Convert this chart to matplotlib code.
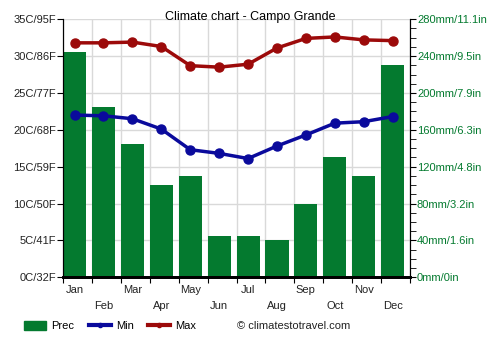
import numpy as np
import matplotlib.pyplot as plt
from matplotlib.patches import Patch
from matplotlib.lines import Line2D
from matplotlib.ticker import MultipleLocator

plt.rcParams['font.family'] = ['Liberation Sans', 'DejaVu Sans']

months = ['Jan', 'Feb', 'Mar', 'Apr', 'May', 'Jun', 'Jul', 'Aug', 'Sep', 'Oct', 'Nov', 'Dec']
prec = [244, 185, 145, 100, 110, 45, 45, 40, 80, 130, 110, 230]
tmin = [22.0, 21.9, 21.5, 20.1, 17.3, 16.8, 16.1, 17.8, 19.3, 20.9, 21.1, 21.8]
tmax = [31.8, 31.8, 31.9, 31.3, 28.7, 28.5, 28.9, 31.1, 32.4, 32.6, 32.2, 32.1]
temp_ticks = [0, 5, 10, 15, 20, 25, 30, 35]
temp_labels = ['0C/32F', '5C/41F', '10C/50F', '15C/59F', '20C/68F', '25C/77F', '30C/86F', '35C/95F']
mm_ticks = [0, 40, 80, 120, 160, 200, 240, 280]
mm_labels = ['0mm/0in', '40mm/1.6in', '80mm/3.2in', '120mm/4.8in', '160mm/6.3in',
             '200mm/7.9in', '240mm/9.5in', '280mm/11.1in']

green = '#047a2f'
blue = '#0a0a9c'
red = '#9c0a0a'
mm_to_c = 35 / 280

fig = plt.figure(figsize=(5, 3.5), dpi=100)
ax = fig.add_axes([0.126, 0.208, 0.694, 0.737])
ax2 = ax.twinx()

x = np.arange(12)
ax.bar(x, np.array(prec) * mm_to_c, width=0.8, align='edge', color=green, zorder=2)
ax.plot(x + 0.4, tmin, color=blue, lw=2.5, marker='o', ms=6.5, zorder=3)
ax.plot(x + 0.4, tmax, color=red, lw=2.5, marker='o', ms=6.5, zorder=3)
ax.set_xlim(0, 12)
ax.set_ylim(0, 35)
ax.set_yticks(temp_ticks)
ax.set_yticklabels(temp_labels, fontsize=8, color='#222222')
ax.tick_params(axis='y', length=4, pad=1)
ax.set_xticks(np.arange(13))
ax.set_xticklabels([])
ax.tick_params(axis='x', length=4)
ax.grid(True, color='#d9d9d9', linewidth=1, zorder=0)
ax.set_axisbelow(True)
for i, m in enumerate(months):
    ax.text(i + 0.4, -1.0 if i % 2 == 0 else -3.2, m, ha='center', va='top', fontsize=8, color='#222222')

ax2.set_ylim(0, 280)
ax2.set_yticks(mm_ticks)
ax2.set_yticklabels(mm_labels, color=green, fontsize=8)
ax2.yaxis.set_minor_locator(MultipleLocator(10))
ax2.tick_params(axis='y', which='major', length=4, pad=1)
ax2.tick_params(axis='y', which='minor', length=4)

for a in (ax, ax2):
    a.spines['top'].set_visible(False)
    a.spines['bottom'].set_linewidth(2)

fig.text(0.5, 1 - 17 / 350, 'Climate chart - Campo Grande', fontsize=9, ha='center', va='center')

handles = [Patch(color=green), Line2D([], [], color=blue, lw=3, marker='o', ms=3),
           Line2D([], [], color=red, lw=3, marker='o', ms=3)]
fig.legend(handles, ['Prec', 'Min', 'Max'], loc='center left', bbox_to_anchor=(0.048, 0.069),
           ncol=3, frameon=False, fontsize=8, handlelength=2.0, handleheight=0.9,
           handletextpad=0.45, columnspacing=1.3, borderpad=0, borderaxespad=0)
fig.text(0.474, 0.069, '\u00a9 climatestotravel.com', fontsize=8, color='#222222', va='center')

fig.savefig('out.png', dpi=100, facecolor='white')
